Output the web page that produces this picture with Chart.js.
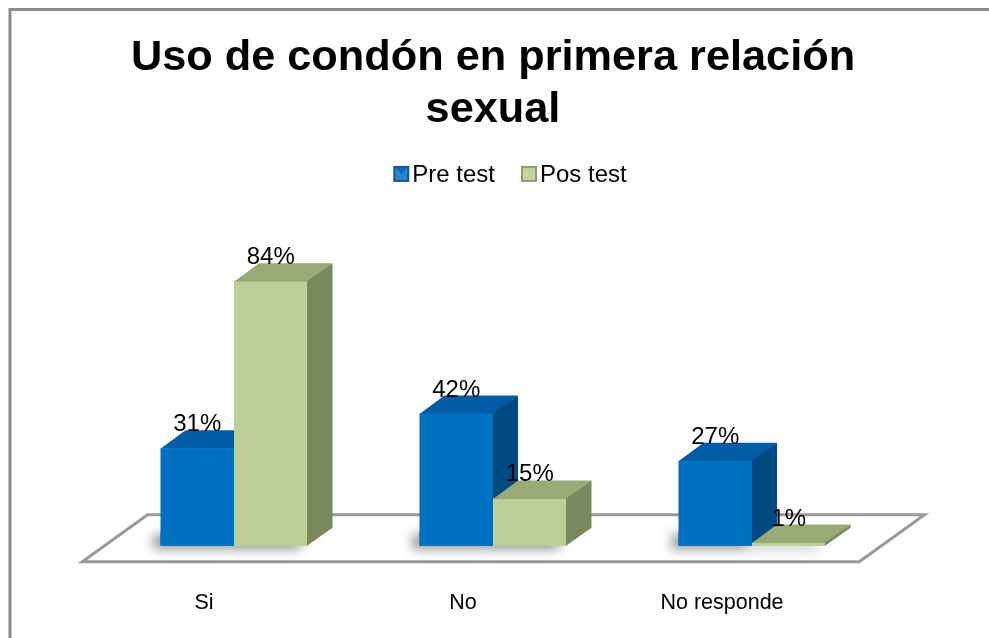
<!DOCTYPE html>
<html>
<head>
<meta charset="utf-8">
<script src="https://cdn.jsdelivr.net/npm/chart.js@4.4.1/dist/chart.umd.min.js"></script>
<style>
  html, body { margin: 0; padding: 0; background: #fff; overflow: hidden; }
  #c { display: block; }
</style>
</head>
<body>
<canvas id="c" width="989" height="638"></canvas>
<script>
// ---- data ----
const categories = ['Si', 'No', 'No responde'];
const preTest = [31, 42, 27];
const posTest = [84, 15, 1];
const seriesNames = ['Pre test', 'Pos test'];
const titleLines = ['Uso de condón en primera relación', 'sexual'];

// ---- look ----
const FONT = "'Liberation Sans', Arial, Helvetica, sans-serif";
const DEPTH_X = 25;   // horizontal shift of the box depth
const DEPTH_Y = 18;   // vertical shift of the box depth
const palette = [
  { front: '#0070c0', top: '#005ca4', side: '#004a84', dark: '#1d5589', light: '#2a86d2' },
  { front: '#bbcf99', top: '#98ab76', side: '#788a5b', dark: '#8c9b70', light: '#c3d5a3' }
];

function barBox(el) {
  const p = el.getProps(['x', 'y', 'base', 'width'], true);
  return { l: p.x - p.width / 2, r: p.x + p.width / 2, x: p.x, top: p.y, base: p.base };
}

function drawFaces(ctx, el, col) {
  const b = barBox(el);
  // top face
  ctx.fillStyle = col.top;
  ctx.beginPath();
  ctx.moveTo(b.l, b.top + 0.5);
  ctx.lineTo(b.l + DEPTH_X, b.top - DEPTH_Y);
  ctx.lineTo(b.r + DEPTH_X, b.top - DEPTH_Y);
  ctx.lineTo(b.r, b.top + 0.5);
  ctx.closePath();
  ctx.fill();
  // right side face
  ctx.fillStyle = col.side;
  ctx.beginPath();
  ctx.moveTo(b.r - 0.5, b.top);
  ctx.lineTo(b.r + DEPTH_X, b.top - DEPTH_Y);
  ctx.lineTo(b.r + DEPTH_X, b.base - DEPTH_Y);
  ctx.lineTo(b.r - 0.5, b.base);
  ctx.closePath();
  ctx.fill();
}

const boxes3d = {
  id: 'boxes3d',
  beforeDraw(chart) {
    const { ctx, width, height } = chart;
    ctx.save();
    ctx.fillStyle = '#fff';
    ctx.fillRect(0, 0, width, height);
    // outer frame of the chart area
    ctx.strokeStyle = '#8c8c8c';
    ctx.lineWidth = 3;
    ctx.beginPath();
    ctx.moveTo(10, height + 2);
    ctx.lineTo(10, 9.5);
    ctx.lineTo(width + 2, 9.5);
    ctx.stroke();
    ctx.restore();
  },
  beforeDatasetsDraw(chart) {
    const { ctx, chartArea } = chart;
    const zero = chart.scales.y.getPixelForValue(0);
    const k = DEPTH_X / DEPTH_Y;
    const front = 16, back = 31;
    ctx.save();
    // floor
    ctx.beginPath();
    ctx.moveTo(chartArea.left - front * k, zero + front);
    ctx.lineTo(chartArea.left + back * k, zero - back);
    ctx.lineTo(chartArea.right + back * k, zero - back);
    ctx.lineTo(chartArea.right - front * k, zero + front);
    ctx.closePath();
    ctx.fillStyle = '#fff';
    ctx.fill();
    ctx.strokeStyle = '#9a9a9a';
    ctx.lineWidth = 3;
    ctx.lineJoin = 'miter';
    ctx.stroke();

    // soft shadows at the foot of each bar
    chart.data.datasets.forEach((ds, di) => {
      chart.getDatasetMeta(di).data.forEach(el => {
        const b = barBox(el);
        const h = Math.min(14, b.base - b.top);
        ctx.save();
        ctx.shadowColor = 'rgba(0,0,0,0.45)';
        ctx.shadowBlur = 12;
        ctx.shadowOffsetX = -7;
        ctx.shadowOffsetY = 3;
        ctx.fillStyle = palette[di].front;
        ctx.fillRect(b.l, b.base - h, b.r - b.l, h);
        ctx.restore();
      });
    });

    // back series boxes: their sides sit behind the second series' fronts
    chart.getDatasetMeta(0).data.forEach(el => drawFaces(ctx, el, palette[0]));
    ctx.restore();
  },
  afterDatasetsDraw(chart) {
    const { ctx } = chart;
    ctx.save();
    chart.getDatasetMeta(1).data.forEach(el => drawFaces(ctx, el, palette[1]));
    // value labels
    ctx.fillStyle = '#000';
    ctx.font = '24px ' + FONT;
    ctx.textAlign = 'center';
    ctx.textBaseline = 'alphabetic';
    chart.data.datasets.forEach((ds, di) => {
      chart.getDatasetMeta(di).data.forEach((el, i) => {
        const b = barBox(el);
        ctx.fillText(ds.data[i] + '%', b.x, b.top - 17);
      });
    });
    ctx.restore();
  },
  afterDraw(chart) {
    // legend row
    const { ctx, chartArea } = chart;
    ctx.save();
    ctx.font = '24px ' + FONT;
    ctx.textBaseline = 'middle';
    ctx.textAlign = 'left';
    const sq = 16, gapText = 3, gapItem = 26;
    const items = chart.data.datasets.map((ds, i) => ({ text: ds.label, col: palette[i], w: ctx.measureText(ds.label).width }));
    const total = items.reduce((s, it) => s + sq + gapText + it.w, 0) + gapItem * (items.length - 1);
    let x = (chartArea.left + chartArea.right) / 2 + 17 - total / 2;
    const cy = chartArea.top - 56;
    items.forEach(it => {
      const y0 = cy - sq / 2 - 1;
      ctx.fillStyle = it.col.dark;
      ctx.fillRect(x, y0, sq, sq);
      ctx.fillStyle = it.col.light;
      ctx.fillRect(x + 2, y0 + 2, sq - 4, sq - 4);
      ctx.fillStyle = it.col.front;
      ctx.beginPath();
      ctx.moveTo(x + 2, y0 + 2);
      ctx.lineTo(x + sq - 2, y0 + 2);
      ctx.lineTo(x + sq / 2, y0 + sq / 2);
      ctx.closePath();
      ctx.fill();
      ctx.fillStyle = '#000';
      ctx.fillText(it.text, x + sq + gapText, cy);
      x += sq + gapText + it.w + gapItem;
    });
    ctx.restore();
  }
};

new Chart(document.getElementById('c'), {
  type: 'bar',
  data: {
    labels: categories,
    datasets: [
      { label: seriesNames[0], data: preTest, backgroundColor: palette[0].front, borderWidth: 0 },
      { label: seriesNames[1], data: posTest, backgroundColor: palette[1].front, borderWidth: 0 }
    ]
  },
  options: {
    responsive: false,
    animation: false,
    devicePixelRatio: 1,
    layout: { padding: { top: 22, left: 104.5, right: 107.5, bottom: 2.3 } },
    datasets: { bar: { categoryPercentage: 0.5676, barPercentage: 1 } },
    plugins: {
      legend: { display: false },
      tooltip: { enabled: false },
      title: {
        display: true,
        text: titleLines,
        color: '#000',
        font: { family: FONT, size: 43.3, weight: 'bold', lineHeight: 1.2 },
        padding: { top: 10, bottom: 95 }
      }
    },
    scales: {
      x: {
        grid: { display: false, drawTicks: false },
        border: { display: false },
        ticks: { color: '#000', font: { family: FONT, size: 21.5 }, padding: 19.5, labelOffset: -30 }
      },
      // the value range runs a little below zero so the floor sits above the category labels
      y: { display: false, min: -8, max: 100 }
    }
  },
  plugins: [boxes3d]
});
</script>
</body>
</html>
